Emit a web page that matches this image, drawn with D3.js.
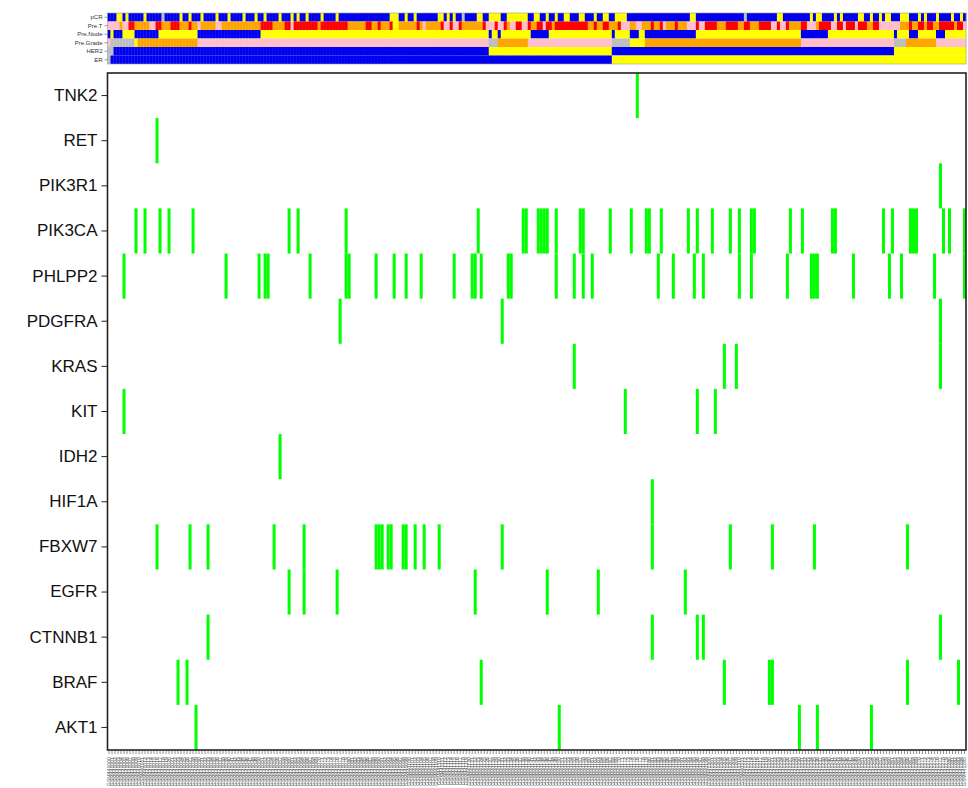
<!DOCTYPE html>
<html><head><meta charset="utf-8">
<script src="https://cdn.jsdelivr.net/npm/d3@7"></script>
<style>body{margin:0;background:#fff;}svg{display:block;font-family:"Liberation Sans",Arial,sans-serif;}</style>
</head><body><svg id="c" width="968" height="788"></svg>
<script>
const N = 286;
const genes = ["TNK2","RET","PIK3R1","PIK3CA","PHLPP2","PDGFRA","KRAS","KIT","IDH2","HIF1A","FBXW7","EGFR","CTNNB1","BRAF","AKT1"];
const mutTNK2 = [176];
const mutRET = [16];
const mutPIK3R1 = [277];
const mutPIK3CA = [9,12,17,20,28,60,63,79,123,138,139,143,144,145,146,149,157,158,167,174,179,180,184,193,196,201,207,210,214,215,227,231,241,242,258,261,267,268,269,278,280,285];
const mutPHLPP2 = [5,39,50,52,53,67,79,80,89,95,99,104,115,121,122,124,133,134,149,155,158,161,183,188,195,198,210,214,226,234,235,236,248,260,264,275,285];
const mutPDGFRA = [77,131,277];
const mutKRAS = [155,205,209,277];
const mutKIT = [5,172,196,202];
const mutIDH2 = [57];
const mutHIF1A = [181];
const mutFBXW7 = [16,27,33,55,65,89,90,91,93,94,98,99,102,105,110,131,181,207,221,235,266];
const mutEGFR = [60,65,76,122,146,163,192];
const mutCTNNB1 = [33,181,196,198,277];
const mutBRAF = [23,26,124,205,220,221,266,283];
const mutAKT1 = [29,150,230,236,254];
const mutations = [mutTNK2,mutRET,mutPIK3R1,mutPIK3CA,mutPHLPP2,mutPDGFRA,mutKRAS,mutKIT,mutIDH2,mutHIF1A,mutFBXW7,mutEGFR,mutCTNNB1,mutBRAF,mutAKT1];

const tracks = ["pCR","Pre.T","Pre.Node","Pre.Grade","HER2","ER"];
// run-length encoded: [startColumn, colourCode]
const runsPCR = [[0,"B"],[3,"Y"],[5,"B"],[6,"Y"],[7,"B"],[12,"Y"],[13,"B"],[18,"G"],[19,"B"],[24,"Y"],[25,"B"],[27,"Y"],[28,"B"],[31,"Y"],[32,"B"],[36,"Y"],[37,"B"],[40,"Y"],[41,"B"],[45,"Y"],[46,"B"],[49,"Y"],[50,"B"],[52,"Y"],[53,"B"],[57,"Y"],[58,"B"],[61,"Y"],[62,"B"],[63,"Y"],[64,"B"],[66,"Y"],[67,"B"],[71,"Y"],[72,"B"],[76,"Y"],[77,"B"],[94,"Y"],[97,"B"],[99,"Y"],[100,"B"],[102,"Y"],[103,"B"],[110,"Y"],[112,"B"],[113,"Y"],[114,"B"],[115,"Y"],[116,"B"],[118,"G"],[119,"B"],[123,"Y"],[125,"B"],[127,"Y"],[131,"B"],[133,"Y"],[140,"B"],[142,"Y"],[144,"B"],[146,"Y"],[147,"B"],[149,"Y"],[150,"B"],[152,"Y"],[154,"B"],[157,"Y"],[159,"B"],[162,"Y"],[163,"B"],[165,"Y"],[167,"B"],[169,"Y"],[173,"B"],[194,"Y"],[196,"B"],[212,"G"],[213,"B"],[223,"Y"],[225,"B"],[234,"Y"],[235,"B"],[236,"Y"],[238,"B"],[242,"Y"],[243,"B"],[244,"Y"],[245,"B"],[250,"Y"],[252,"B"],[254,"Y"],[255,"B"],[257,"Y"],[258,"B"],[259,"Y"],[261,"B"],[264,"Y"],[267,"B"],[270,"Y"],[271,"B"],[272,"Y"],[273,"B"],[276,"Y"],[277,"B"],[281,"Y"],[282,"B"],[284,"Y"],[285,"B"]];
const runsPreT = [[0,"P"],[4,"O"],[5,"P"],[7,"R"],[9,"O"],[14,"P"],[16,"R"],[18,"O"],[21,"R"],[24,"O"],[27,"R"],[28,"O"],[30,"P"],[31,"O"],[36,"P"],[38,"O"],[51,"R"],[55,"O"],[59,"R"],[61,"P"],[62,"R"],[70,"O"],[71,"R"],[80,"O"],[86,"R"],[88,"O"],[90,"R"],[91,"O"],[94,"R"],[95,"Y"],[97,"O"],[103,"R"],[104,"O"],[105,"P"],[106,"O"],[111,"R"],[112,"P"],[114,"R"],[115,"P"],[117,"R"],[118,"O"],[125,"R"],[126,"P"],[129,"R"],[130,"P"],[132,"R"],[133,"O"],[134,"P"],[136,"R"],[138,"P"],[140,"R"],[141,"O"],[143,"R"],[145,"P"],[146,"R"],[148,"O"],[149,"R"],[160,"O"],[162,"R"],[163,"O"],[165,"R"],[167,"O"],[170,"R"],[171,"P"],[174,"O"],[176,"P"],[178,"O"],[181,"R"],[182,"O"],[184,"R"],[185,"P"],[186,"O"],[189,"R"],[190,"O"],[193,"P"],[196,"R"],[197,"P"],[199,"R"],[203,"O"],[206,"R"],[210,"O"],[212,"R"],[214,"O"],[217,"R"],[221,"P"],[223,"R"],[224,"P"],[226,"R"],[227,"O"],[231,"R"],[233,"P"],[236,"O"],[237,"R"],[241,"P"],[243,"R"],[245,"P"],[246,"R"],[249,"P"],[250,"R"],[253,"O"],[255,"R"],[257,"P"],[264,"O"],[267,"R"],[268,"O"],[270,"R"],[272,"O"],[273,"R"],[275,"O"],[277,"R"],[282,"O"],[283,"R"],[285,"P"]];
const runsPreNode = [[0,"B"],[1,"Y"],[2,"B"],[5,"Y"],[9,"B"],[17,"Y"],[30,"B"],[51,"Y"],[127,"B"],[128,"Y"],[130,"B"],[131,"Y"],[141,"B"],[147,"Y"],[168,"B"],[169,"Y"],[174,"B"],[177,"Y"],[179,"B"],[196,"Y"],[231,"B"],[240,"Y"],[262,"B"],[263,"Y"],[267,"B"],[270,"Y"],[276,"B"],[279,"Y"]];
const runsPreGrade = [[0,"P"],[1,"G"],[9,"Y"],[10,"O"],[30,"P"],[127,"G"],[130,"O"],[140,"P"],[168,"G"],[174,"Y"],[179,"O"],[231,"P"],[262,"G"],[266,"O"],[276,"P"]];
const runsHER2 = [[0,"G"],[2,"B"],[127,"Y"],[168,"B"],[262,"Y"]];
const runsER = [[0,"G"],[1,"B"],[168,"Y"]];
const trackRuns = [runsPCR,runsPreT,runsPreNode,runsPreGrade,runsHER2,runsER];
const palette = {B:"#0000F0",Y:"#FFFF00",R:"#FF0000",O:"#FFA500",P:"#FFC0CB",G:"#BEBEBE"};
const sampleIds = d3.range(N).map(i => "GSM" + String(441000 + i));

const svg = d3.select("#c");
const L = 107.5, R = 966, T = 73, B = 750;
const x = d3.scaleBand().domain(d3.range(N)).range([L, R]);
const y = d3.scaleBand().domain(genes).range([T, B]);
const ty = d3.scaleBand().domain(tracks).range([13, 64]);

function expand(runs){
  const out = [];
  runs.forEach((r,i)=>{
    const end = i < runs.length-1 ? runs[i+1][0] : N;
    for(let c=r[0]; c<end; c++) out.push({col:c, code:r[1]});
  });
  return out;
}
tracks.forEach((t,ti)=>{
  svg.append("g").selectAll("rect").data(expand(trackRuns[ti])).join("rect")
    .attr("x", d=>x(d.col)).attr("width", x.bandwidth()+0.3)
    .attr("y", ty(t)).attr("height", ty.bandwidth())
    .attr("fill", d=>palette[d.code]);
});
svg.append("rect").attr("x",L).attr("y",13).attr("width",R-L).attr("height",51)
  .attr("fill","none").attr("stroke","#999").attr("stroke-width",0.6);
const tAxis = d3.axisLeft(ty).tickSize(3).tickPadding(2);
const tg = svg.append("g").attr("transform",`translate(${L},0)`).call(tAxis);
tg.select(".domain").remove();
tg.selectAll("text").attr("font-size",6).attr("fill","#333").attr("font-family","Liberation Sans, Arial");
tg.selectAll("line").attr("stroke","#555").attr("stroke-width",0.6);

const cells = [];
genes.forEach((g,gi)=>mutations[gi].forEach(c=>cells.push({g, c})));
svg.append("g").selectAll("rect").data(cells).join("rect")
  .attr("x", d=>x(d.c)).attr("width", x.bandwidth())
  .attr("y", d=>y(d.g)).attr("height", y.bandwidth())
  .attr("fill","#00FF00");

svg.append("rect").attr("x",L).attr("y",T).attr("width",R-L).attr("height",B-T)
  .attr("fill","none").attr("stroke","#222").attr("stroke-width",1.6);

const yAxis = d3.axisLeft(y).tickSize(6).tickPadding(4);
const yg = svg.append("g").attr("transform",`translate(${L},0)`).call(yAxis);
yg.select(".domain").remove();
yg.selectAll("text").attr("font-size",17).attr("fill","#111").attr("font-family","Liberation Sans, Arial");
yg.selectAll("line").attr("stroke","#222").attr("stroke-width",1);

const xAxis = d3.axisBottom(x).tickSize(4).tickPadding(2).tickFormat(i=>sampleIds[i]);
const xg = svg.append("g").attr("transform",`translate(0,${B})`).call(xAxis);
xg.select(".domain").remove();
xg.selectAll("line").attr("stroke","#444").attr("stroke-width",0.6);
xg.selectAll("text").attr("font-size",5.2).attr("fill","#555")
  .attr("text-anchor","end").attr("x",0).attr("y",0).attr("dy","0.35em")
  .attr("transform","translate(0,7) rotate(-90)");
</script></body></html>
